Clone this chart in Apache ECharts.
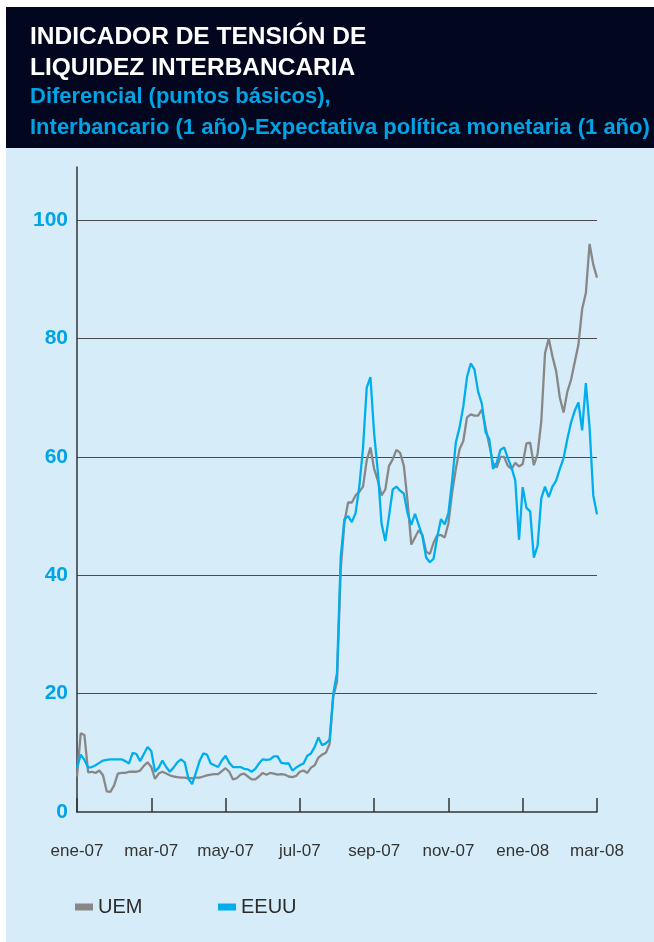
<!DOCTYPE html>
<html>
<head>
<meta charset="utf-8">
<script src="https://cdn.jsdelivr.net/npm/echarts@6/dist/echarts.min.js"></script>
<style>
  html, body { margin: 0; padding: 0; background: #ffffff; }
  #chart { width: 654px; height: 942px; }
</style>
</head>
<body>
<div id="chart"></div>
<script>
// tick labels, one every 20 points (two months)
var monthLabels = ['ene-07', 'mar-07', 'may-07', 'jul-07', 'sep-07', 'nov-07', 'ene-08', 'mar-08'];
var yTicks = [0, 20, 40, 60, 80, 100];

// UEM, diferencial en puntos básicos
var uem = [
  6, 13.3, 13, 6.7, 6.8, 6.6, 7.0, 6.2, 3.5, 3.4,
  4.5, 6.5, 6.6, 6.6, 6.8, 6.8, 6.8, 7.0, 7.8, 8.4,
  7.6, 5.6, 6.5, 6.8, 6.5, 6.2, 6.0, 5.9, 5.8, 5.8,
  5.7, 5.7, 5.8, 5.8, 6.0, 6.2, 6.3, 6.4, 6.4, 6.9,
  7.4, 6.8, 5.5, 5.7, 6.3, 6.5, 6.0, 5.5, 5.5, 6.0,
  6.6, 6.3, 6.6, 6.5, 6.3, 6.4, 6.3, 6.0, 5.9, 6.1,
  6.8, 7.0, 6.6, 7.5, 7.9, 9.2, 9.7, 10.0, 11.5, 19.5,
  22, 41, 49, 52.3, 52.3, 53.5, 54.1, 55, 59.4, 61.6,
  58, 56, 53.5, 54.5, 58.5, 59.6, 61.2, 60.7, 58.5, 52.5,
  45.2, 46.4, 47.6, 46.8, 44, 43.6, 45.5, 46.8, 46.8, 46.4,
  48.8, 54, 58, 61.3, 62.7, 66.7, 67.2, 67, 67, 68,
  65, 62, 59, 58.2, 60, 60, 58.5, 58, 59, 58.4,
  58.8, 62.3, 62.4, 58.6, 60.5, 66, 77.5, 80, 77, 74.5,
  70, 67.5, 71, 73, 76, 79, 85, 87.7, 96, 92.5,
  90.3
];

// EEUU
var eeuu = [
  7.5, 9.7, 8.8, 7.5, 7.6, 7.9, 8.3, 8.7, 8.8, 8.9,
  8.9, 8.9, 8.9, 8.6, 8.2, 10.0, 9.8, 8.6, 9.8, 11.0,
  10.3, 6.8, 7.5, 8.7, 7.6, 6.8, 7.5, 8.4, 8.9, 8.4,
  5.6, 4.7, 6.6, 8.6, 9.9, 9.7, 8.2, 7.9, 7.6, 8.7,
  9.5, 8.3, 7.6, 7.6, 7.6, 7.3, 7.2, 6.8, 7.3, 8.2,
  8.9, 8.8, 8.9, 9.4, 9.4, 8.3, 8.2, 8.2, 7.0, 7.5,
  7.9, 8.2, 9.5, 9.9, 11.0, 12.6, 11.3, 11.6, 12.2, 20,
  23.5, 43, 49.5, 50, 49, 50.5, 55, 61.5, 71.7, 73.5,
  64, 57.5, 48.7, 45.8, 50, 54.5, 55, 54.3, 53.8, 50.5,
  48.5, 50.4, 48.5, 46.6, 43, 42.2, 42.8, 46.5, 49.5, 48.6,
  50.5, 56, 62.5, 65, 68.5, 73.5, 75.8, 74.8, 71, 69,
  64.2, 63, 58, 59, 61.2, 61.6, 59.8, 58.2, 56, 46,
  54.9, 51.4, 50.8, 43, 45, 53, 55, 53.2, 55, 56,
  58, 59.8, 63, 65.8, 67.8, 69.2, 64.5, 72.5, 65, 53.5,
  50.3
];

var categories = uem.map(function (v, i) {
  return i % 20 === 0 ? monthLabels[i / 20] : '';
});

var chart = echarts.init(document.getElementById('chart'));

var option = {
  animation: false,
  backgroundColor: '#ffffff',
  graphic: [
    { type: 'rect', z: -10, shape: { x: 6, y: 148, width: 648, height: 794 }, style: { fill: '#d6edf9' } },
    { type: 'rect', z: -10, shape: { x: 6, y: 7, width: 648, height: 141 }, style: { fill: '#02061e' } },
    { type: 'text', x: 30, y: 37, style: { text: 'INDICADOR DE TENSIÓN DE', fill: '#ffffff', font: 'bold 24.5px "Liberation Sans", Arial, sans-serif', verticalAlign: 'middle' } },
    { type: 'text', x: 30, y: 68, style: { text: 'LIQUIDEZ INTERBANCARIA', fill: '#ffffff', font: 'bold 24.5px "Liberation Sans", Arial, sans-serif', verticalAlign: 'middle' } },
    { type: 'text', x: 30, y: 97, style: { text: 'Diferencial (puntos básicos),', fill: '#00a3e4', font: 'bold 22px "Liberation Sans", Arial, sans-serif', verticalAlign: 'middle' } },
    { type: 'text', x: 30, y: 128, style: { text: 'Interbancario (1 año)-Expectativa política monetaria (1 año)', fill: '#00a3e4', font: 'bold 22px "Liberation Sans", Arial, sans-serif', verticalAlign: 'middle' } }
  ],
  legend: [
    {
      data: ['UEM'], left: 75, top: 897, padding: 0, icon: 'rect', itemWidth: 18, itemHeight: 7,
      textStyle: { color: '#2b2b2b', fontSize: 20, fontFamily: '"Liberation Sans Narrow", Arial, sans-serif' }
    },
    {
      data: ['EEUU'], left: 218, top: 897, padding: 0, icon: 'rect', itemWidth: 18, itemHeight: 7,
      textStyle: { color: '#2b2b2b', fontSize: 20, fontFamily: '"Liberation Sans Narrow", Arial, sans-serif' }
    }
  ],
  grid: { left: 77, right: 57, top: 167, bottom: 130 },
  xAxis: {
    type: 'category',
    data: categories,
    boundaryGap: false,
    axisLine: { lineStyle: { color: '#333333', width: 1.5 } },
    axisTick: {
      inside: true, length: 14,
      interval: function (i) { return i % 20 === 0; },
      lineStyle: { color: '#333333', width: 1.5 }
    },
    axisLabel: {
      interval: function (i) { return i % 20 === 0; },
      margin: 31, color: '#333333', fontSize: 17,
      fontFamily: '"Liberation Sans", Arial, sans-serif'
    },
    splitLine: { show: false }
  },
  yAxis: {
    type: 'value',
    min: 0, max: 109, interval: 20,
    axisLine: { show: true, lineStyle: { color: '#333333', width: 1.5 } },
    axisTick: { show: false },
    axisLabel: {
      showMaxLabel: false,
      margin: 9, color: '#00a3e4', fontSize: 21, fontWeight: 'bold',
      fontFamily: '"Liberation Sans", Arial, sans-serif',
      formatter: function (v) { return yTicks.indexOf(v) >= 0 ? String(v) : ''; }
    },
    splitLine: { show: true, showMinLine: false, showMaxLine: false, lineStyle: { color: '#4a4a4a', width: 1 } }
  },
  series: [
    {
      name: 'UEM', type: 'line', data: uem, showSymbol: false,
      itemStyle: { color: '#878787' },
      lineStyle: { color: '#878787', width: 2.3 }
    },
    {
      name: 'EEUU', type: 'line', data: eeuu, showSymbol: false,
      itemStyle: { color: '#00aeef' },
      lineStyle: { color: '#00aeef', width: 2.3 }
    }
  ]
};

chart.setOption(option);
</script>
</body>
</html>
